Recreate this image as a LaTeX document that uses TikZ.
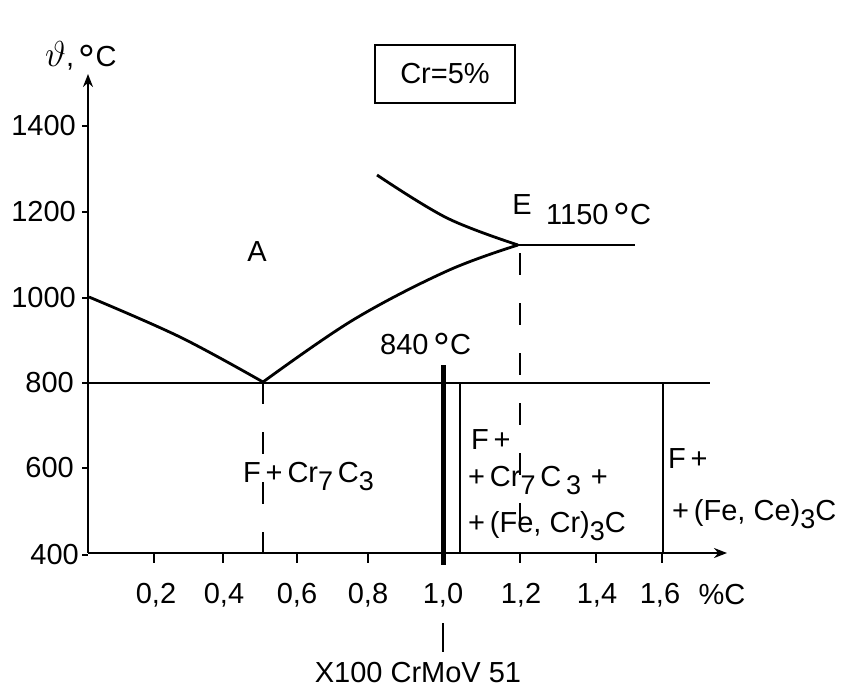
\documentclass[tikz,border=0pt]{standalone}
\usepackage{fontspec}
\setmainfont{Liberation Sans}
\usetikzlibrary{arrows.meta}
\newcommand{\sbs}[1]{\raisebox{-8pt}{\fontsize{27}{27}\selectfont #1}}
\newcommand{\dgr}{\raisebox{-8pt}{\fontsize{42}{42}\selectfont °}}
\begin{document}
\begin{tikzpicture}[x=1pt,y=-1pt,
  lbl/.style={inner sep=0pt,font=\fontsize{29}{33}\selectfont},
  axisline/.style={line width=2.4pt},
  curve/.style={line width=2.8pt},
  thin/.style={line width=2.3pt},
  dashline/.style={line width=2.3pt,dash pattern=on 22pt off 28pt}]
\useasboundingbox[fill=white] (0,0) rectangle (845,689);
% axes
\coordinate (O) at (88,553);
\coordinate (ytop) at (88,74);
\coordinate (xend) at (727,553);
\draw[axisline,-{Stealth[length=13pt,width=10pt]}] (O) -- (ytop);
\draw[axisline,-{Stealth[length=13pt,width=10pt]}] (O) -- (xend);
\node[lbl,anchor=west] (ylab) at (45,58) {\scalebox{1.45}{$\vartheta$},\,\dgr C};
\node[lbl] (xlab) at (722,595) {\%C};
% y ticks
\foreach \v/\y/\r in {1400/126/76,1200/212/76,1000/298/76,800/383/74,600/468/74,400/555/79}{
  \draw[thin] (82,\y) -- (88,\y);
  \node[lbl,anchor=east] (y\v) at (\r,\y) {\v};
}
% x ticks
\foreach \x in {154,223,297,368,443,520,596,662}{
  \draw[thin] (\x,553) -- (\x,563);
}
\node[lbl] (t02) at (156,595) {0,2};
\node[lbl] (t04) at (224,595) {0,4};
\node[lbl] (t06) at (297,595) {0,6};
\node[lbl] (t08) at (368,595) {0,8};
\node[lbl] (t10) at (443,595) {1,0};
\node[lbl] (t12) at (521,595) {1,2};
\node[lbl] (t14) at (597,595) {1,4};
\node[lbl] (t16) at (660,595) {1,6};
% Cr box
\node[lbl,draw,line width=2.4pt,minimum width=140pt,minimum height=58pt] (cr) at (445,74) {Cr=5\%};
% key points
\coordinate (P) at (263,382);
\coordinate (E) at (518,245);
\coordinate (Eend) at (635,245);
% curves
\draw[curve] plot[smooth,tension=0.6] coordinates {(89,297) (180,337) (263,382)};
\draw[curve] plot[smooth,tension=0.6] coordinates {(263,382) (353,320) (447,271) (518,245)};
\draw[curve] plot[smooth,tension=0.6] coordinates {(377,175) (447,218) (518,245)};
\draw[thin] (E) -- (Eend);
% 800 line
\coordinate (h0) at (88,383);
\coordinate (h1) at (710,383);
\draw[thin] (h0) -- (h1);
% dashed lines
\coordinate (Pb) at (263,553);
\coordinate (Et) at (520,245);
\coordinate (Eb) at (520,553);
\draw[dashline] (P) -- (Pb);
\draw[dashline,dash phase=-8pt] (Et) -- (Eb);
% verticals
\coordinate (k0) at (443,365);
\coordinate (k1) at (443,565);
\draw[line width=5pt] (k0) -- (k1);
\coordinate (v0) at (460,383);
\coordinate (v1) at (460,553);
\draw[thin] (v0) -- (v1);
\coordinate (w0) at (663,383);
\coordinate (w1) at (663,553);
\draw[thin] (w0) -- (w1);
% labels
\node[lbl] (A) at (257,252) {A};
\node[lbl] (Elab) at (522,205) {E};
\node[lbl,anchor=west] (t1150) at (546,218) {1150\,\dgr C};
\node[lbl,anchor=west] (t840) at (380,348) {840\,\dgr C};
\node[lbl,anchor=base west] (r1) at (243,482) {F\,+\,Cr\sbs{7}\,C\sbs{3}};
\node[lbl,anchor=base west] (r2a) at (471,449) {F\,+};
\node[lbl,anchor=base west] (r2b) at (468,486) {+\,Cr\sbs{7}\,C\,\sbs{3}\,\,+};
\node[lbl,anchor=base west] (r2c) at (468,532) {+\,(Fe, Cr)\sbs{3}C};
\node[lbl,anchor=base west] (r3a) at (668,468) {F\,+};
\node[lbl,anchor=base west] (r3b) at (672,520) {+\,(Fe, Ce)\sbs{3}C};
% steel marker
\coordinate (s0) at (443,623);
\coordinate (s1) at (443,652);
\draw[line width=2.6pt] (s0) -- (s1);
\node[lbl] (steel) at (418,673) {X100 CrMoV 51};
\end{tikzpicture}
\end{document}
